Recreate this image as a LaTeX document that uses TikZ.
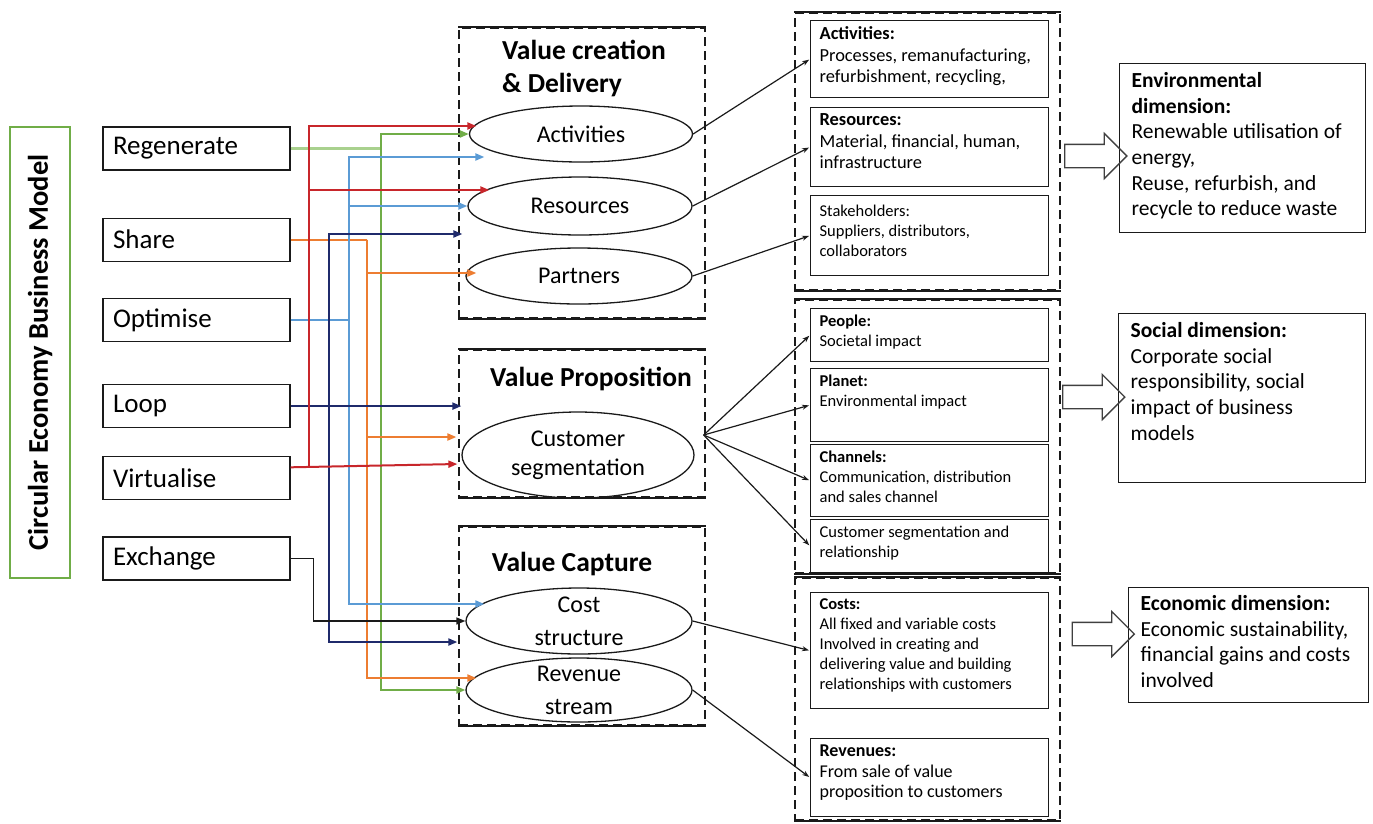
\documentclass[tikz,border=0pt]{standalone}
\usepackage{fontspec}
\setmainfont{Carlito}
\usetikzlibrary{arrows.meta,positioning,calc,shapes.geometric,shapes.arrows}
\definecolor{Ink}{HTML}{1A1A1A}
\definecolor{Frame}{HTML}{404040}
\definecolor{Green}{HTML}{70AD47}
\definecolor{LightGreen}{HTML}{A9D18E}
\definecolor{Red}{HTML}{C8262B}
\definecolor{Blue}{HTML}{5B9BD5}
\definecolor{Orange}{HTML}{ED7D31}
\definecolor{Navy}{HTML}{1F2A6B}
\newcommand{\boxtext}[3]{\parbox[t][#1][t]{#2}{\raggedright #3}}

\begin{document}
\begin{tikzpicture}[x=1pt, y=-1pt,
  strategy/.style={draw=Ink, line width=1.2pt, minimum width=187pt, minimum height=43pt, text width=167pt, align=left, inner xsep=10pt, font=\fontsize{27}{30}\selectfont},
  stage/.style={draw=Ink, line width=1.4pt, dash pattern=on 9pt off 5pt, minimum width=246pt},
  column/.style={draw=Ink, line width=1.4pt, dash pattern=on 9pt off 5pt, minimum width=265pt},
  rim/.style={draw=Ink, line width=2.2pt, dash pattern=on 1.2pt off 0.8pt},
  heading/.style={font=\bfseries\fontsize{27.5}{33}\selectfont, align=left, inner sep=0pt},
  part/.style={ellipse, draw=Ink, line width=1.3pt, inner sep=-6pt, align=center, font=\fontsize{24}{31}\selectfont},
  info/.style={draw=Ink, line width=1.2pt, anchor=north west, inner xsep=9pt, inner ysep=6pt, font=\fontsize{16.5}{20}\selectfont},
  dimension/.style={draw=Ink, line width=1.3pt, anchor=north west, inner xsep=12pt, inner ysep=9pt, font=\fontsize{21.5}{25.6}\selectfont},
  bigarrow/.style={single arrow, draw=Frame, line width=1.3pt, minimum height=62pt, inner sep=11pt, single arrow head extend=11pt, single arrow head indent=0pt},
  feed/.style={line width=2pt, -{Triangle[length=9pt,width=7pt]}},
  link/.style={draw=Ink, line width=1.2pt, -{Stealth[length=7pt,width=5pt]}, shorten >=1pt}]
\useasboundingbox (0,0) rectangle (1373,823);

% model title and the six strategies
\node[draw=Green, line width=1.5pt, rotate=90, minimum width=451pt, minimum height=60pt, font=\bfseries\fontsize{28.5}{32}\selectfont] (cebm) at (40,352.5) {Circular Economy Business Model};
\node[strategy] (regen) at (196.5,148.5) {Regenerate};
\node[strategy, below=47pt of regen] (share) {Share};
\node[strategy, below=36pt of share] (opt) {Optimise};
\node[strategy, below=42pt of opt] (loop) {Loop};
\node[strategy, below=28pt of loop] (virt) {Virtualise};
\node[strategy, below=36pt of virt] (exch) {Exchange};

% business model blocks
\node[stage, minimum height=290pt] (vcd) at (582,173) {};
\node[stage, minimum height=147pt] (vp) at (582,423.5) {};
\node[stage, minimum height=198pt] (vc) at (582,626) {};
\node[heading, anchor=north west] (vcdtitle) at (502,40) {Value creation\\\& Delivery};
\node[heading] (vptitle) at (591,379) {Value Proposition};
\node[heading] (vctitle) at (572,564) {Value Capture};

\node[part, minimum width=223pt, minimum height=56pt] (act) at (581,134) {Activities};
\node[part, minimum width=224pt, minimum height=58pt] (res) at (580,206) {Resources};
\node[part, minimum width=226pt, minimum height=56pt] (par) at (579,276) {Partners};
\node[part, minimum width=232pt, minimum height=86pt, font=\fontsize{24}{29}\selectfont] (cseg) at (578,455) {Customer\\segmentation};
\node[part, minimum width=226pt, minimum height=66pt, font=\fontsize{24}{33}\selectfont] (cost) at (579,621) {Cost\\structure};
\node[part, minimum width=226pt, minimum height=64pt, font=\fontsize{24}{33}\selectfont] (rev) at (579,690) {Revenue\\stream};

% detail columns
\node[column, minimum height=277pt] (cola) at (927.5,151.5) {};
\node[column, minimum height=273pt] (colb) at (927.5,436.5) {};
\node[column, minimum height=242pt] (colc) at (927.5,699) {};
\foreach \b in {vcd,vp,vc,cola,colb,colc}
  \draw[rim] (\b.north west) -- (\b.north east) (\b.south west) -- (\b.south east);

\node[info, font=\fontsize{18.4}{21.7}\selectfont] (actbox) at (810,20) {\boxtext{65pt}{220pt}{\textbf{Activities:}\\Processes, remanufacturing,\\refurbishment, recycling,}};
\node[info, font=\fontsize{18.4}{21.7}\selectfont] (resbox) at (810,107) {\boxtext{67pt}{220pt}{\textbf{Resources:}\\Material, financial, human,\\infrastructure}};
\node[info, inner ysep=9pt] (stakebox) at (810,195) {\boxtext{62pt}{220pt}{Stakeholders:\\Suppliers, distributors,\\collaborators}};
\node[info] (peoplebox) at (810,308) {\boxtext{41pt}{220pt}{\textbf{People:}\\Societal impact}};
\node[info] (planetbox) at (810,368) {\boxtext{61pt}{220pt}{\textbf{Planet:}\\Environmental impact}};
\node[info] (chanbox) at (810,444) {\boxtext{60pt}{220pt}{\textbf{Channels:}\\Communication, distribution\\and sales channel}};
\node[info] (custbox) at (810,519) {\boxtext{41pt}{220pt}{Customer segmentation and\\relationship}};
\node[info] (costbox) at (810,592) {\boxtext{104pt}{220pt}{\textbf{Costs:}\\All fixed and variable costs\\Involved in creating and\\delivering value and building\\relationships with customers}};
\node[info, font=\fontsize{18}{20.8}\selectfont] (revbox) at (810,738) {\boxtext{66pt}{220pt}{\textbf{Revenues:}\\From sale of value\\proposition to customers}};

% sustainability dimensions
\node[dimension] (envbox) at (1119,63) {\boxtext{151pt}{222pt}{\textbf{Environmental}\\\textbf{dimension:}\\Renewable utilisation of\\energy,\\Reuse, refurbish, and\\recycle to reduce waste}};
\node[dimension] (socbox) at (1118,313) {\boxtext{151pt}{223pt}{\textbf{Social dimension:}\\Corporate social\\responsibility, social\\impact of business\\models}};
\node[dimension, inner ysep=8pt] (ecobox) at (1128,587) {\boxtext{99pt}{216pt}{\textbf{Economic dimension:}\\Economic sustainability,\\financial gains and costs\\involved}};
\node[bigarrow] (envarr) at (1090,156) {};
\node[bigarrow] (socarr) at (1088,397) {};
\node[bigarrow] (ecoarr) at (1097.5,634) {};

% coloured feeds from the strategies
\coordinate (gbus) at ($(regen.east)+(90,0)$);
\coordinate (obus) at ($(share.east)+(76,0)$);
\coordinate (bbus) at ($(opt.east)+(58,0)$);
\coordinate (nbus) at ($(loop.east)+(38,0)$);
\coordinate (rbus) at ($(virt.east)+(18,-11)$);

\draw[feed, -, draw=LightGreen, line width=3pt] (regen.east) -- (gbus);
\draw[feed, color=Green] (gbus) |- (act.west);
\draw[feed, color=Green] (gbus) |- (rev.west);

\draw[feed, -, draw=Orange] (share.east) -- (obus);
\draw[feed, color=Orange] (obus) |- ($(par.west)+(11,-3)$);
\draw[feed, color=Orange] (obus) |- ($(cseg.west)+(-5,-18)$);
\draw[feed, color=Orange] (obus) |- ($(rev.west)+(11,-12)$);

\draw[feed, -, draw=Blue] (opt.east) -- (bbus);
\draw[feed, color=Blue] (bbus) |- ($(act.west)+(15.5,23)$);
\draw[feed, color=Blue] (bbus) |- (res.west);
\draw[feed, color=Blue] (bbus) |- ($(cost.west)+(19,-17)$);

\draw[feed, color=Navy] (loop.east) -- (cseg.west |- loop.east);
\draw[feed, color=Navy] (nbus) |- ($(par.west)+(-3,-42)$);
\draw[feed, color=Navy] (nbus) |- ($(cost.west)+(-8,21)$);

\draw[feed, color=Red] ($(virt.east)+(0,-11)$) -- ($(cseg.west)+(-4,9)$);
\draw[feed, color=Red] (rbus) |- ($(act.west)+(7.5,-8)$);
\draw[feed, color=Red] (rbus) |- ($(res.west)+(22,-16)$);

\draw[feed, color=Ink, line width=1.5pt] (exch.east) -- ++(23,0) |- (cost.west);

% blocks to their details
\coordinate (fan) at ($(cseg.east)+(9,-20)$);
\draw[link] (act.east) -- (actbox.west);
\draw[link] (res.east) -- (resbox.west);
\draw[link] (par.east) -- (stakebox.west);
\draw[link] (fan) -- (peoplebox.west);
\draw[link] (fan) -- (planetbox.west);
\draw[link] (fan) -- (chanbox.west);
\draw[link] (fan) -- (custbox.west);
\draw[link] (cost.east) -- (costbox.west);
\draw[link] (rev.east) -- (revbox.west);
\end{tikzpicture}
\end{document}
